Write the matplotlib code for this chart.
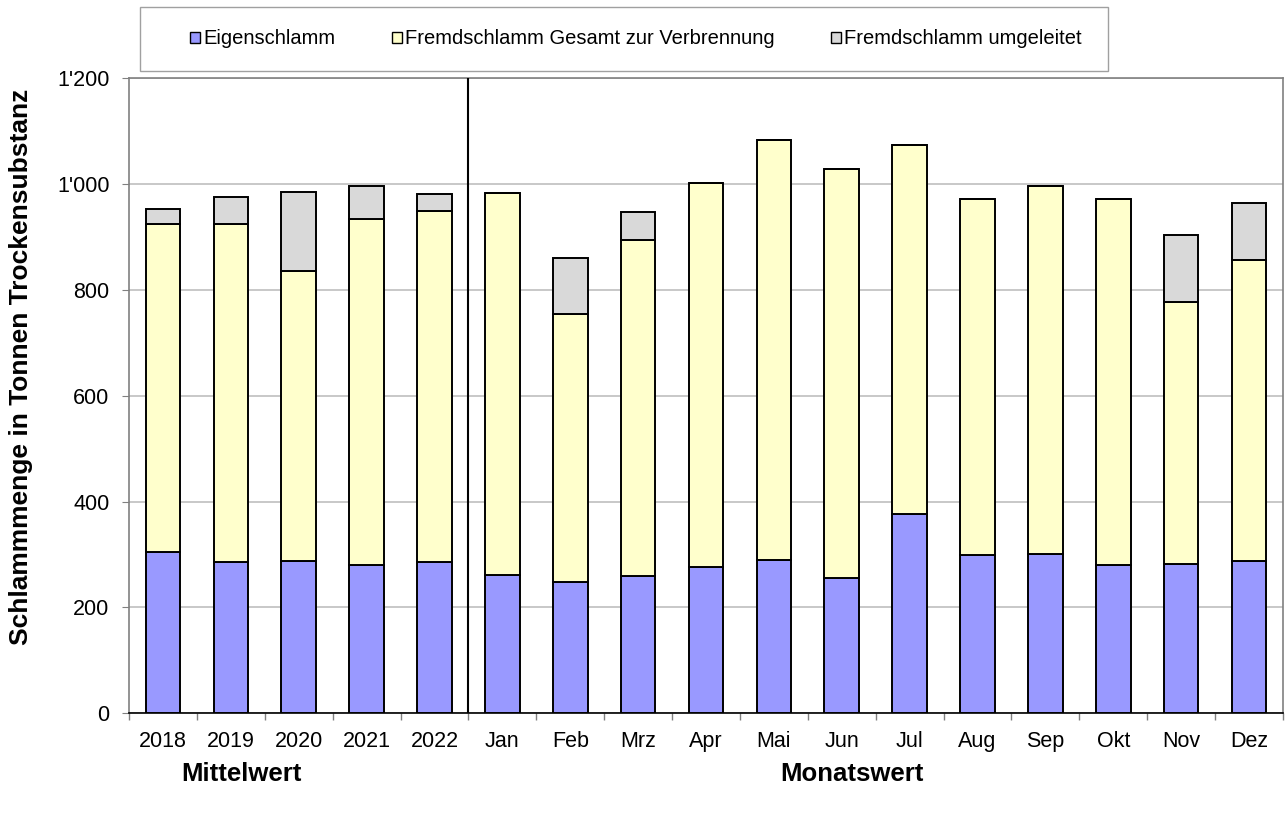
import matplotlib.pyplot as plt
from matplotlib.ticker import FuncFormatter, FixedLocator
from matplotlib.patches import Patch, Rectangle

plt.rcParams['font.family'] = ['Liberation Sans', 'DejaVu Sans']

# categories: yearly averages then months of the current year
categories = ['2018', '2019', '2020', '2021', '2022',
              'Jan', 'Feb', 'Mrz', 'Apr', 'Mai', 'Jun', 'Jul',
              'Aug', 'Sep', 'Okt', 'Nov', 'Dez']

# tonnes dry substance
eigenschlamm = [305, 286, 287, 281, 285,
                261, 248, 259, 276, 290, 255, 377,
                300, 301, 280, 282, 288]
fremd_total = [924, 924, 836, 934, 949,
               983, 755, 895, 1003, 1083, 1028, 1074,
               972, 997, 972, 778, 857]
fremd_umgeleitet_top = [953, 976, 986, 996, 982,
                        983, 860, 948, 1003, 1083, 1028, 1074,
                        972, 997, 972, 904, 964]

fremd_verbrennung = [t - e for t, e in zip(fremd_total, eigenschlamm)]
umgeleitet = [t - f for t, f in zip(fremd_umgeleitet_top, fremd_total)]

c_eigen = '#9999FF'
c_fremd = '#FFFFCC'
c_umg = '#D9D9D9'

fig = plt.figure(figsize=(12.88, 8.14), dpi=100)
ax = fig.add_axes([0.1002, 0.1237, 0.8959, 0.7801])

x = list(range(len(categories)))
w = 0.51
ax.bar(x, eigenschlamm, w, color=c_eigen, edgecolor='black', linewidth=1.4, zorder=3)
ax.bar(x, fremd_verbrennung, w, bottom=eigenschlamm, color=c_fremd,
       edgecolor='black', linewidth=1.4, zorder=3)
ax.bar(x, umgeleitet, w, bottom=fremd_total, color=c_umg,
       edgecolor='black', linewidth=1.4, zorder=3)

ax.set_xlim(-0.5, len(categories) - 0.5)
ax.set_ylim(0, 1200)
ax.set_yticks(range(0, 1201, 200))
ax.yaxis.set_major_formatter(FuncFormatter(lambda v, p: f"{int(v):,}".replace(',', "'")))
ax.grid(axis='y', color='#BFBFBF', linewidth=1.2, zorder=0)

ax.set_xticks(x)
ax.set_xticklabels(categories)
ax.xaxis.set_minor_locator(FixedLocator([i + 0.5 for i in range(-1, len(categories))]))
ax.tick_params(axis='x', which='major', length=0, pad=13, labelsize=15.5)
ax.tick_params(axis='x', which='minor', length=5, color='#808080', width=1)
ax.tick_params(axis='y', length=5, color='#808080', labelsize=15.5, pad=9)

for s in ['left', 'top', 'right']:
    ax.spines[s].set_color('#808080')
    ax.spines[s].set_linewidth(1.2)
ax.spines['bottom'].set_color('black')
ax.spines['bottom'].set_linewidth(1.2)

# separator between averages and monthly values
ax.axvline(4.5, color='black', linewidth=1.5, zorder=4)

ax.set_ylabel('Schlammmenge in Tonnen Trockensubstanz', fontsize=19,
              fontweight='bold')
ax.yaxis.set_label_coords(-0.0832, 0.545)

fig.text(241 / 1288, 1 - 774 / 814, 'Mittelwert', fontsize=18.5, fontweight='bold',
         ha='center', va='center')
fig.text(852 / 1288, 1 - 774 / 814, 'Monatswert', fontsize=18.5, fontweight='bold',
         ha='center', va='center')

# legend box above the plot
fig.patches.append(Rectangle((140 / 1288, 1 - 71 / 814), 968 / 1288, 64 / 814,
                             transform=fig.transFigure, facecolor='white',
                             edgecolor='#A0A0A0', linewidth=1.0))
handles = [Patch(facecolor=c_eigen, edgecolor='black', label='Eigenschlamm'),
           Patch(facecolor=c_fremd, edgecolor='black', label='Fremdschlamm Gesamt zur Verbrennung'),
           Patch(facecolor=c_umg, edgecolor='black', label='Fremdschlamm umgeleitet')]
fig.legend(handles=handles, loc='center', ncol=3,
           bbox_to_anchor=(636 / 1288, 1 - 39 / 814),
           fontsize=14.5, frameon=False,
           handlelength=0.5, handleheight=0.5, handletextpad=0.15,
           columnspacing=2.8, borderaxespad=0)

fig.savefig('out.png', dpi=100)
